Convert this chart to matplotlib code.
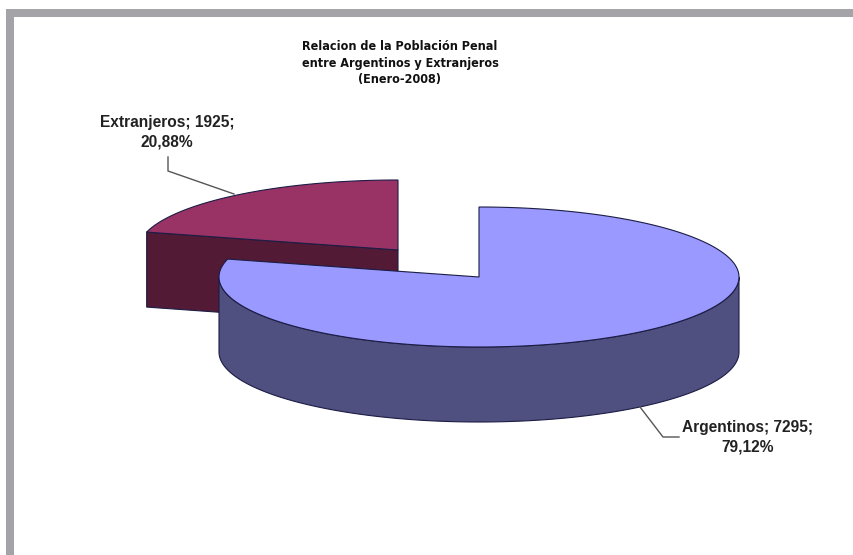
import numpy as np
import matplotlib
matplotlib.use("Agg")
import matplotlib.pyplot as plt
from matplotlib import font_manager
from matplotlib.patches import Polygon, Rectangle

# datos
categorias = ["Argentinos", "Extranjeros"]
valores = [7295, 1925]
color_tapa = ["#9999ff", "#993366"]
color_lado = ["#4f4f80", "#521a35"]

titulo = "Relacion de la Población Penal\nentre Argentinos y Extranjeros\n(Enero-2008)"

# geometria (en pixeles de la imagen)
W, H = 854, 555
rx, ry, prof = 260, 70, 75
centros = [(479, 277), (398, 250)]  # Extranjeros va desplazado (explotado)
borde = "#1c1c45"

# buscar una fuente angosta para el titulo (tipo Arial Narrow)
angostas = [f for f in font_manager.fontManager.ttflist
            if ("Narrow" in f.name or "Condensed" in f.name or f.stretch in ("condensed", 75))]
fuente_titulo = None
for f in angostas:
    if f.weight in ("bold", 700):
        fuente_titulo = font_manager.FontProperties(fname=f.fname, size=9)
        break
if fuente_titulo is None:
    fuente_titulo = font_manager.FontProperties(family="Liberation Sans", weight="bold", size=8.5)

fig = plt.figure(figsize=(W / 100, H / 100), dpi=100)
ax = fig.add_axes([0, 0, 1, 1])
ax.set_xlim(0, W)
ax.set_ylim(H, 0)
ax.axis("off")

# marco gris
ax.add_patch(Rectangle((6, 9), W - 6, 8, color="#a4a4a8", lw=0))
ax.add_patch(Rectangle((6, 9), 8, H - 9, color="#a4a4a8", lw=0))


def punto(c, t, dz=0):
    return c[0] + rx * np.cos(t), c[1] - ry * np.sin(t) + dz


def arco(c, t0, t1, dz=0, n=200):
    t = np.linspace(t0, t1, n)
    return np.column_stack([c[0] + rx * np.cos(t), c[1] - ry * np.sin(t) + dz])


total = sum(valores)
fracs = [v / total for v in valores]

# angulos: Argentinos empieza a las 12 en sentido horario
a_ini = np.pi / 2
a_arg = a_ini - 2 * np.pi * fracs[0]  # fin de Argentinos
e0, e1 = np.pi / 2, np.pi / 2 + 2 * np.pi * fracs[1]

# --- Extranjeros ---
c = centros[1]
p_fin = punto(c, e1)
cara = [c, p_fin, (p_fin[0], p_fin[1] + prof), (c[0], c[1] + prof)]
ax.add_patch(Polygon(cara, closed=True, fc=color_lado[1], ec=borde, lw=0.8))
tapa = np.vstack([[c], arco(c, e0, e1)])
ax.add_patch(Polygon(tapa, closed=True, fc=color_tapa[1], ec=borde, lw=0.8))

# --- Argentinos ---
c = centros[0]
top = arco(c, -np.pi, 0)
bot = arco(c, 0, -np.pi, dz=prof)
ax.add_patch(Polygon(np.vstack([top, bot]), closed=True, fc=color_lado[0], ec=borde, lw=0.8))
tapa = np.vstack([[c], arco(c, a_arg, a_ini)])
ax.add_patch(Polygon(tapa, closed=True, fc=color_tapa[0], ec=borde, lw=0.8))


def etiqueta(i):
    pct = f"{fracs[i] * 100:.2f}".replace(".", ",")
    return f"{categorias[i]}; {valores[i]};\n{pct}%"


fuente = dict(family="Liberation Sans", weight="bold", size=11.2, color="#222222",
              ha="center", va="center", linespacing=1.35)

# lineas guia
ax.plot([168, 168, 234], [157, 171, 194], color="#555555", lw=1)
ax.plot([640, 663, 679], [407, 437, 437], color="#555555", lw=1)

ax.text(167, 132, etiqueta(1), **fuente)
ax.text(748, 437, etiqueta(0), **fuente)

ax.text(400, 63, titulo, fontproperties=fuente_titulo,
        color="#111111", ha="center", va="center", linespacing=1.3)

fig.savefig("out.png", dpi=100)
